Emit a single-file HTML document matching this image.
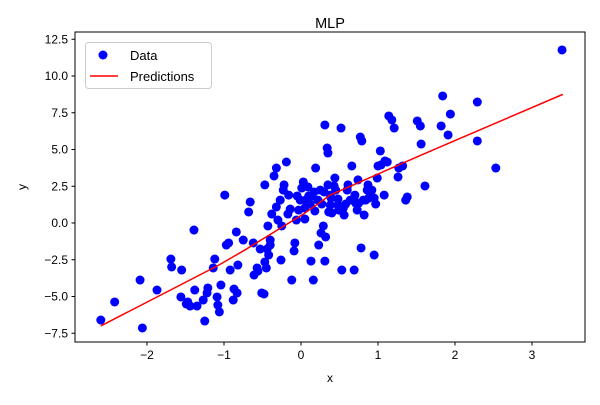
<!DOCTYPE html>
<html><head><meta charset="utf-8"><style>
body{margin:0;background:#fff;font-family:"Liberation Sans",sans-serif}
</style></head><body>
<svg id="c" width="600" height="400" xmlns="http://www.w3.org/2000/svg" font-family="Liberation Sans, DejaVu Sans, sans-serif">
<rect width="600" height="400" fill="#fff"/>
<text x="330" y="28" font-size="14.5" text-anchor="middle">MLP</text>
<g id="marks"></g>
<rect x="75" y="32" width="510" height="310" fill="none" stroke="#000" stroke-width="1"/>
<g id="axes"></g>
<text x="330" y="382" font-size="12" text-anchor="middle">x</text>
<text x="26" y="187" font-size="12" text-anchor="middle" transform="rotate(-90 26 187)">y</text>
<g>
<rect x="85.5" y="42.5" width="126" height="46" rx="3" fill="#fff" fill-opacity="0.8" stroke="#ccc"/>
<circle cx="103" cy="55" r="4.5" fill="#0000ff"/>
<text x="130" y="60" font-size="13">Data</text>
<line x1="90" y1="76" x2="118" y2="76" stroke="#ff0000" stroke-width="1.5"/>
<text x="130" y="81" font-size="13">Predictions</text>
</g>
</svg>
<script>
const xData=[-2.60,-2.42,-2.09,-1.87,-2.06,-1.68,-1.69,-1.55,-1.56,-1.49,-1.44,-1.47,-1.39,-1.38,-1.35,-1.27,-1.25,-1.22,-1.21,-1.14,-1.12,-1.09,-1.08,-1.06,-1.04,-0.99,-0.97,-0.94,-0.92,-0.88,-0.87,-0.84,-0.83,-0.82,-0.75,-0.68,-0.66,-0.62,-0.61,-0.57,-0.56,-0.53,-0.51,-0.48,-0.47,-0.45,-0.47,-0.44,-0.43,-0.42,-0.40,-0.40,-0.38,-0.35,-0.32,-0.32,-0.30,-0.27,-0.25,-0.26,-0.23,-0.22,-0.19,-0.17,-0.16,-0.14,-0.12,-0.09,-0.08,-0.06,-0.05,-0.03,-0.01,0.01,0.03,0.05,0.05,0.06,0.09,0.10,0.12,0.13,0.14,0.16,0.17,0.18,0.19,0.22,0.23,0.25,0.26,0.27,0.29,0.30,0.31,0.31,0.32,0.34,0.35,0.35,0.36,0.38,0.38,0.39,0.40,0.43,0.44,0.45,0.48,0.48,0.49,0.52,0.53,0.55,0.56,0.58,0.60,0.61,0.64,0.66,0.69,0.70,0.71,0.73,0.74,0.75,0.77,0.78,0.79,0.81,0.82,0.84,0.86,0.87,0.88,0.90,0.92,0.95,0.95,0.97,0.99,1.00,1.03,1.04,1.08,1.09,1.12,1.14,1.18,1.21,1.26,1.27,1.32,1.36,1.38,1.51,1.55,1.56,1.61,1.82,1.84,1.91,1.94,2.29,2.29,2.53,3.39];
const yData=[-6.60,-5.37,-3.88,-4.56,-7.14,-2.99,-2.45,-3.20,-5.03,-5.51,-5.65,-5.37,-0.48,-4.56,-5.65,-5.24,-6.67,-4.76,-4.42,-3.06,-2.45,-5.03,-5.58,-6.05,-4.22,1.90,-1.50,-1.36,-3.20,-5.24,-4.49,-0.61,-4.76,-2.86,-1.16,0.75,1.43,-1.36,-3.54,-3.06,-3.27,-1.77,-4.76,-4.83,-2.65,-3.06,2.59,-1.77,-0.20,-2.18,-1.16,-1.50,0.61,3.20,3.74,1.09,0.20,1.56,-0.20,-2.52,2.24,2.59,4.15,0.61,1.90,0.95,-3.88,-1.90,-1.36,0.20,1.84,0.88,1.56,2.38,2.79,1.02,0.27,1.56,2.45,1.84,1.29,-2.59,1.84,-3.88,2.11,0.82,3.74,1.56,-1.50,2.24,-0.68,1.29,-0.20,2.11,-2.59,6.67,-0.95,5.10,2.59,4.76,0.75,1.90,1.22,1.70,0.68,2.52,3.06,2.24,1.63,1.22,0.88,6.46,-3.20,1.02,0.54,1.29,2.24,2.59,1.56,3.88,-3.20,1.90,1.36,0.88,2.93,1.36,5.85,-1.70,5.58,1.56,0.54,1.56,2.24,2.59,1.70,2.11,2.24,-2.18,1.70,1.29,3.06,3.88,4.90,3.95,1.90,4.22,4.15,7.28,7.01,6.46,3.13,3.74,3.88,1.56,1.77,6.94,6.60,5.37,2.52,6.60,8.64,5.99,7.41,8.23,5.58,3.74,11.77];
const predX=[-2.6,-1.08,-0.73,0.03,0.38,1.55,3.4];
const predY=[-7.0,-2.9,-1.84,0.6,1.9,4.6,8.75];
const xTicks=[-2,-1,0,1,2,3];
const xTickLabels=["−2","−1","0","1","2","3"];
const yTicks=[-7.5,-5,-2.5,0,2.5,5,7.5,10,12.5];
const yTickLabels=["−7.5","−5.0","−2.5","0.0","2.5","5.0","7.5","10.0","12.5"];

const NS="http://www.w3.org/2000/svg";
function sx(v){return 301+v*77;}
function sy(v){return 223-v*14.7;}
function mk(t,a){const e=document.createElementNS(NS,t);for(const k in a)e.setAttribute(k,a[k]);return e;}
const marks=document.getElementById('marks');
for(let i=0;i<xData.length;i++){
  const c=mk('circle',{cx:sx(xData[i]),cy:sy(yData[i]),r:4.5,fill:'#0000ff'});
  
  
  marks.appendChild(c);
}
const pts=predX.map((v,i)=>sx(v)+','+sy(predY[i])).join(' ');
const pl=mk('polyline',{points:pts,fill:'none',stroke:'#ff0000','stroke-width':1.5});


marks.appendChild(pl);
const ax=document.getElementById('axes');
xTicks.forEach((v,i)=>{
  const l=mk('line',{x1:sx(v),x2:sx(v),y1:342,y2:345.5,stroke:'#000'});
  
  
  ax.appendChild(l);
  const t=mk('text',{x:sx(v),y:359,'font-size':12,'text-anchor':'middle'});
  
  
  t.textContent=xTickLabels[i];ax.appendChild(t);
});
yTicks.forEach((v,i)=>{
  const l=mk('line',{x1:71.5,x2:75,y1:sy(v),y2:sy(v),stroke:'#000'});
  
  
  ax.appendChild(l);
  const t=mk('text',{x:68,y:sy(v)+4,'font-size':12,'text-anchor':'end'});
  
  
  t.textContent=yTickLabels[i];ax.appendChild(t);
});
</script>
</body></html>
